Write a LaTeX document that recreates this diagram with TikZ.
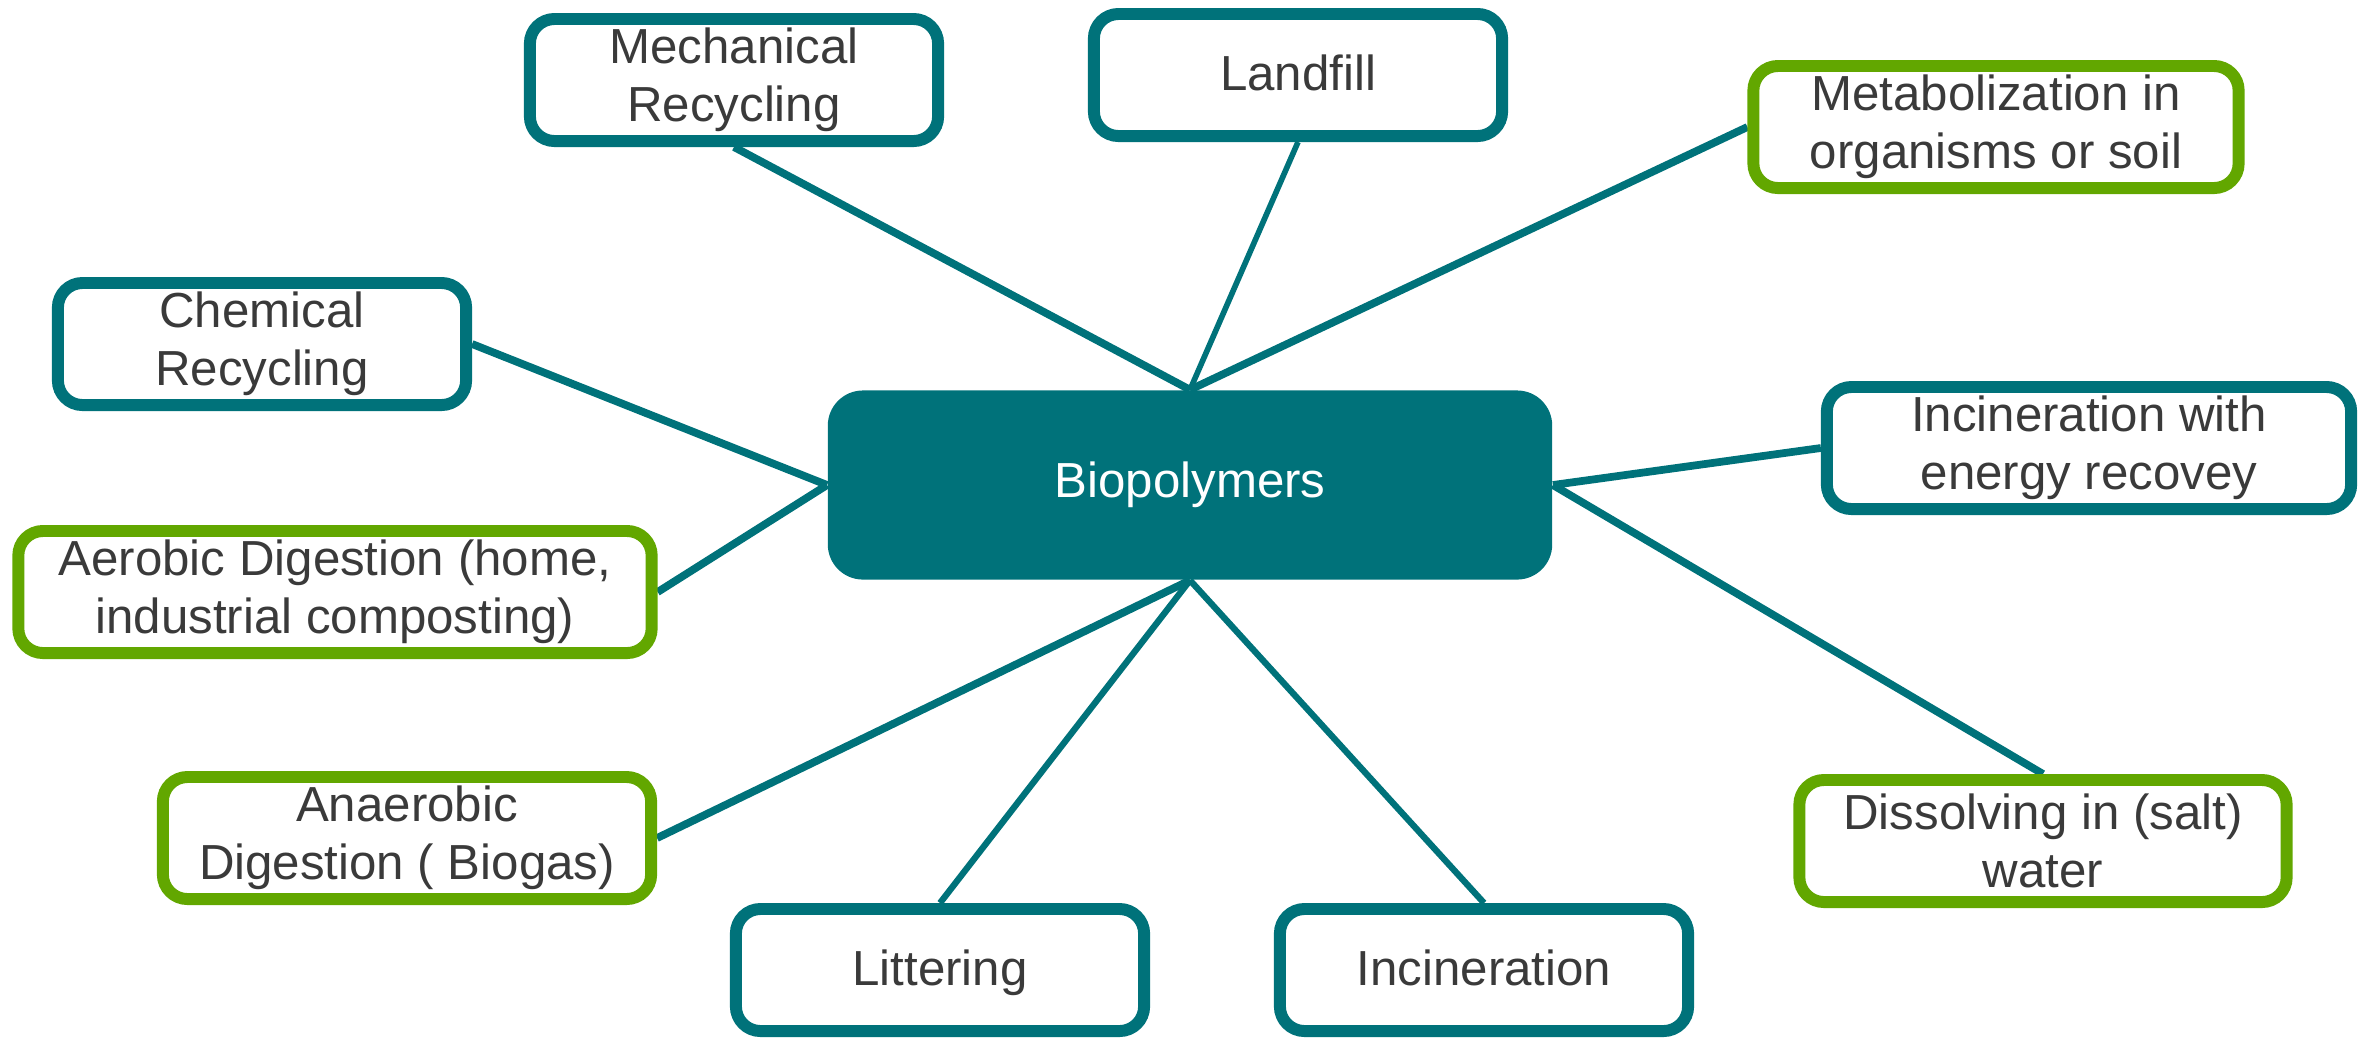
\documentclass[tikz,border=0pt]{standalone}
\usepackage{fontspec}
\setmainfont{Liberation Sans}
\usepackage{tikz}
\usetikzlibrary{positioning, backgrounds}
\definecolor{petrol}{RGB}{0,114,122}
\definecolor{leaf}{RGB}{98,167,0}
\definecolor{ink}{RGB}{58,58,58}

\begin{document}
\begin{tikzpicture}[x=0.01cm, y=-0.01cm,
    box/.style={draw=petrol, line width=3.4pt, fill=white, rounded corners=7pt,
                text=ink, font=\fontsize{14}{16.5}\selectfont, align=center,
                minimum width=4.08cm, minimum height=1.22cm, inner sep=2pt},
    greenbox/.style={box, draw=leaf},
    onerow/.style={box, text height=1.8ex, text depth=0.1ex},
    hubbox/.style={fill=petrol, rounded corners=10pt, text=white,
                   font=\fontsize{14}{16.5}\selectfont,
                   minimum width=7.24cm, minimum height=1.89cm},
    link/.style={draw=petrol, line width=2.2pt}]
  \useasboundingbox (0,0) rectangle (2369,1038);

  % centre
  \node[hubbox] (hub) at (1190,485) {Biopolymers};

  % end-of-life routes
  \node[box] (mech) at (734,80) {Mechanical\\Recycling};
  \node[onerow] (landfill) at (1298,75) {Landfill};
  \node[greenbox, minimum width=4.85cm] (metab) at (1996,127) {Metabolization in\\organisms or soil};
  \node[box] (chem) at (262,344) {Chemical\\Recycling};
  \node[box, minimum width=5.24cm] (energy) at (2089,448) {Incineration with\\energy recovey};
  \node[greenbox, minimum width=6.33cm] (aerobic) at (335,592) {Aerobic Digestion (home,\\industrial composting)};
  \node[greenbox, minimum width=4.88cm] (anaerobic) at (407,838) {Anaerobic\\Digestion ( Biogas)};
  \node[greenbox, minimum width=4.87cm] (dissolve) at (2043,841) {Dissolving in (salt)\\water};
  \node[onerow] (litter) at (940,970) {Littering};
  \node[onerow] (incin) at (1484,970) {Incineration};

  \begin{scope}[on background layer]
    \draw[link] (hub.north) -- (mech.south);
    \draw[link, line width=1.6pt] (hub.north) -- (landfill.south);
    \draw[link] (hub.north) -- (metab.west);
    \draw[link] (hub.west) -- (chem.east);
    \draw[link] (hub.west) -- (aerobic.east);
    \draw[link] (hub.east) -- (energy.west);
    \draw[link] (hub.east) -- (dissolve.north);
    \draw[link] (hub.south) -- (anaerobic.east);
    \draw[link, line width=1.8pt] (hub.south) -- (litter.north);
    \draw[link, line width=1.8pt] (hub.south) -- (incin.north);
  \end{scope}
\end{tikzpicture}
\end{document}
